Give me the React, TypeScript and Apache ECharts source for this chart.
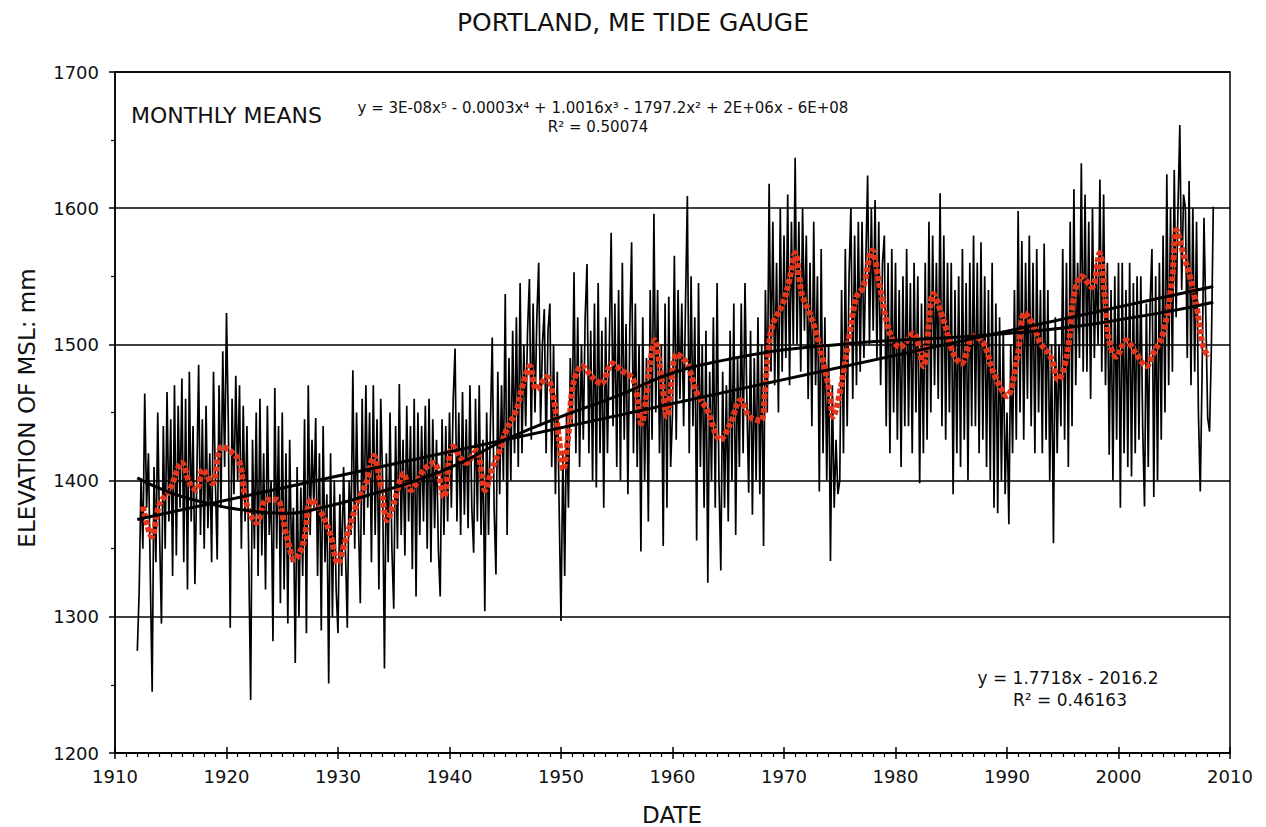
import React, { useEffect, useRef } from "react";
import * as echarts from "echarts";

// Monthly-mean sea level (mm), sampled every 2 months (6 per year) from 1912.0
const seriesStartYear = 1912;
const samplesPerYear = 6;
const monthlyMeans: number[] = [
  // 1912-1919
  1275, 1318, 1400, 1350, 1464, 1380,
  1420, 1330, 1245, 1410, 1340, 1450,
  1360, 1295, 1440, 1350, 1465, 1370,
  1445, 1330, 1470, 1345, 1455, 1380,
  1475, 1340, 1460, 1320, 1480, 1370,
  1440, 1324, 1400, 1485, 1360, 1445,
  1350, 1455, 1365, 1420, 1340, 1480,
  1400, 1342, 1470, 1380, 1495, 1410,
  // 1920-1929
  1523, 1440, 1292, 1460, 1390, 1477,
  1400, 1470, 1350, 1455, 1370, 1440,
  1340, 1239, 1430, 1350, 1450, 1330,
  1460, 1345, 1420, 1320, 1455, 1360,
  1400, 1282, 1468, 1350, 1440, 1310,
  1450, 1320, 1420, 1295, 1430, 1340,
  1380, 1266, 1410, 1300, 1395, 1330,
  1445, 1288, 1470, 1360, 1430, 1380,
  1446, 1330, 1420, 1290, 1440, 1340,
  1390, 1251, 1420, 1300, 1400, 1320,
  // 1930-1939
  1288, 1390, 1330, 1410, 1350, 1292,
  1400, 1360, 1481, 1350, 1450, 1370,
  1310, 1460, 1360, 1470, 1380, 1450,
  1340, 1470, 1360, 1445, 1320, 1460,
  1400, 1262, 1420, 1340, 1450, 1350,
  1306, 1440, 1350, 1471, 1360, 1430,
  1345, 1455, 1370, 1440, 1335, 1460,
  1315, 1450, 1360, 1440, 1370, 1455,
  1350, 1460, 1340, 1445, 1365, 1430,
  1350, 1315, 1445, 1360, 1440, 1370,
  // 1940-1949
  1450, 1380, 1460, 1497, 1370, 1450,
  1360, 1465, 1375, 1445, 1365, 1470,
  1380, 1347, 1460, 1370, 1470, 1360,
  1430, 1304, 1450, 1360, 1440, 1505,
  1380, 1331, 1480, 1390, 1470, 1400,
  1537, 1360, 1490, 1400, 1510, 1420,
  1520, 1410, 1545, 1420, 1500, 1440,
  1510, 1548, 1430, 1530, 1450, 1520,
  1560, 1440, 1500, 1526, 1420, 1510,
  1530, 1410, 1500, 1390, 1480, 1380,
  // 1950-1959
  1297, 1420, 1330, 1450, 1380, 1490,
  1440, 1553, 1420, 1520, 1410, 1500,
  1430, 1520, 1559, 1420, 1510, 1400,
  1530, 1395, 1545, 1420, 1510, 1380,
  1520, 1420, 1500, 1582, 1440, 1530,
  1410, 1540, 1400, 1560, 1430, 1515,
  1390, 1510, 1575, 1420, 1530, 1410,
  1500, 1348, 1520, 1400, 1490, 1370,
  1540, 1430, 1596, 1450, 1540, 1420,
  1500, 1352, 1530, 1380, 1535, 1410,
  // 1960-1969
  1450, 1565, 1430, 1540, 1460, 1530,
  1440, 1530, 1609, 1420, 1550, 1440,
  1520, 1356, 1545, 1410, 1500, 1380,
  1510, 1325, 1480, 1400, 1520, 1380,
  1545, 1400, 1334, 1480, 1380, 1470,
  1370, 1510, 1400, 1530, 1360, 1490,
  1410, 1530, 1420, 1545, 1460, 1391,
  1510, 1375, 1490, 1400, 1520, 1390,
  1500, 1352, 1540, 1450, 1618, 1480,
  1590, 1470, 1560, 1450, 1600, 1480,
  // 1970-1979
  1580, 1490, 1610, 1470, 1590, 1500,
  1637, 1500, 1590, 1480, 1600, 1510,
  1580, 1460, 1560, 1440, 1590, 1470,
  1550, 1392, 1570, 1420, 1520, 1400,
  1500, 1341, 1470, 1380, 1430, 1390,
  1400, 1540, 1420, 1570, 1440, 1550,
  1600, 1460, 1580, 1470, 1590, 1480,
  1590, 1490, 1560, 1624, 1500, 1600,
  1510, 1606, 1490, 1590, 1470, 1560,
  1580, 1440, 1560, 1420, 1570, 1450,
  // 1980-1989
  1560, 1430, 1540, 1410, 1550, 1440,
  1570, 1440, 1545, 1420, 1560, 1450,
  1550, 1398, 1530, 1420, 1560, 1430,
  1590, 1450, 1580, 1470, 1560, 1460,
  1611, 1440, 1580, 1430, 1560, 1450,
  1560, 1390, 1540, 1420, 1550, 1410,
  1570, 1430, 1545, 1400, 1560, 1440,
  1580, 1440, 1560, 1420, 1575, 1430,
  1550, 1410, 1540, 1400, 1560, 1380,
  1530, 1376, 1520, 1400, 1510, 1390,
  // 1990-1999
  1450, 1368, 1500, 1420, 1540, 1430,
  1598, 1450, 1576, 1430, 1560, 1460,
  1580, 1440, 1560, 1420, 1570, 1450,
  1540, 1420, 1574, 1430, 1540, 1400,
  1500, 1354, 1520, 1420, 1500, 1440,
  1570, 1430, 1560, 1410, 1590, 1440,
  1614, 1470, 1560, 1490, 1633, 1480,
  1610, 1480, 1590, 1460, 1600, 1490,
  1560, 1500, 1621, 1480, 1610, 1470,
  1560, 1419, 1540, 1400, 1550, 1430,
  // 2000-2008
  1560, 1380, 1560, 1420, 1540, 1410,
  1560, 1403, 1545, 1420, 1550, 1430,
  1550, 1440, 1381, 1530, 1410, 1530,
  1570, 1388, 1550, 1400, 1560, 1430,
  1580, 1450, 1625, 1470, 1600, 1480,
  1628, 1520, 1600, 1661, 1540, 1610,
  1600, 1490, 1620, 1470, 1600, 1480,
  1590, 1450, 1392, 1480, 1593, 1520,
  1446, 1436, 1500, 1601,
];

// Running mean (red dotted), [year, mm]
const movingAverage: [number, number][] = [
  [1912.5, 1381], [1913.3, 1359], [1914.0, 1383], [1914.9, 1393], [1916.0, 1413],
  [1916.7, 1398], [1917.3, 1393], [1917.9, 1408], [1918.7, 1398], [1919.6, 1425],
  [1920.6, 1420], [1921.2, 1413], [1921.8, 1383], [1922.7, 1369], [1923.6, 1386],
  [1924.5, 1386], [1925.4, 1359], [1926.1, 1342], [1926.9, 1354], [1927.6, 1386],
  [1928.4, 1378], [1929.3, 1361], [1930.0, 1339], [1930.6, 1354], [1931.7, 1383],
  [1932.6, 1400], [1933.2, 1418], [1933.9, 1393], [1934.4, 1371], [1935.0, 1383],
  [1935.9, 1405], [1936.5, 1393], [1937.7, 1408], [1938.6, 1413], [1939.5, 1388],
  [1940.3, 1425], [1941.5, 1413], [1942.4, 1422], [1943.2, 1393], [1943.8, 1408],
  [1944.5, 1422], [1945.1, 1437], [1946.0, 1452], [1946.6, 1471], [1947.2, 1484],
  [1947.8, 1467], [1948.7, 1476], [1949.3, 1462], [1949.8, 1432], [1950.2, 1408],
  [1950.7, 1437], [1951.1, 1471], [1951.9, 1484], [1952.8, 1476], [1953.6, 1471],
  [1954.6, 1486], [1955.4, 1481], [1956.5, 1474], [1957.2, 1442], [1958.0, 1486],
  [1958.4, 1503], [1959.0, 1476], [1959.5, 1447], [1960.4, 1493], [1961.3, 1486],
  [1962.2, 1464], [1963.1, 1452], [1964.3, 1430], [1965.2, 1442], [1966.1, 1459],
  [1966.9, 1447], [1967.9, 1444], [1968.3, 1467], [1968.6, 1496], [1969.0, 1515],
  [1969.9, 1530], [1970.5, 1548], [1971.0, 1567], [1971.6, 1537], [1972.3, 1523],
  [1972.9, 1508], [1973.5, 1488], [1974.1, 1464], [1974.4, 1447], [1975.0, 1464],
  [1975.9, 1508], [1976.5, 1535], [1977.1, 1542], [1977.9, 1569], [1978.6, 1542],
  [1979.5, 1508], [1980.4, 1498], [1981.6, 1508], [1982.5, 1484], [1983.4, 1537],
  [1984.3, 1518], [1985.2, 1493], [1985.9, 1486], [1987.0, 1506], [1987.9, 1501],
  [1988.8, 1479], [1990.0, 1462], [1990.9, 1489], [1991.6, 1523], [1992.4, 1513],
  [1993.0, 1501], [1993.9, 1491], [1994.6, 1474], [1995.4, 1493], [1996.0, 1535],
  [1996.7, 1550], [1997.6, 1542], [1998.3, 1567], [1998.8, 1532], [1999.2, 1501],
  [1999.8, 1491], [2000.7, 1503], [2001.6, 1493], [2002.5, 1484], [2003.1, 1493],
  [2004.0, 1508], [2004.8, 1547], [2005.2, 1584], [2005.8, 1567], [2006.4, 1550],
  [2007.0, 1528], [2007.6, 1498], [2008.1, 1491],
];

// 5th-order polynomial trend
const polynomialTrend: [number, number][] = [
  [1912, 1402], [1915, 1391], [1918.5, 1383], [1921, 1379], [1925, 1376],
  [1929, 1381], [1933, 1390], [1937, 1400], [1941, 1413], [1945, 1430],
  [1950, 1447], [1955, 1462], [1960, 1479], [1965, 1489], [1970, 1496],
  [1975, 1500], [1980, 1503], [1985, 1505], [1990, 1508], [1995, 1512],
  [2000, 1518], [2005, 1525], [2008.5, 1531],
];

// Linear trend end points
const linearTrend: [number, number][] = [
  [1912, 1371.5],
  [2008.5, 1542.5],
];

const chartTitle = "PORTLAND, ME TIDE GAUGE";
const xAxisName = "DATE";
const yAxisName = "ELEVATION OF MSL: mm";
const seriesLabel = "MONTHLY MEANS";
const polyEquation = "y = 3E-08x\u2075 - 0.0003x\u2074 + 1.0016x\u00B3 - 1797.2x\u00B2 + 2E+06x - 6E+08";
const polyR2 = "R\u00B2 = 0.50074";
const linEquation = "y = 1.7718x - 2016.2";
const linR2 = "R\u00B2 = 0.46163";

const FONT = "'DejaVu Sans', Verdana, sans-serif";
const TXT = "#111";

export default function App() {
  const ref = useRef<HTMLDivElement>(null);

  useEffect(() => {
    if (!ref.current) return;
    const chart = echarts.init(ref.current, undefined, { renderer: "svg" });
    const monthlyData = monthlyMeans.map((v, i) => [seriesStartYear + i / samplesPerYear, v]);

    const axisLine = { show: true, lineStyle: { color: "#000", width: 1.5 } };
    const plain = (v: number) => String(v);

    chart.setOption({
      animation: false,
      backgroundColor: "#fff",
      textStyle: { fontFamily: FONT },
      grid: {
        left: 115,
        top: 72,
        width: 1115,
        height: 681,
        show: true,
        borderColor: "#000",
        borderWidth: 1.5,
        backgroundColor: "transparent",
      },
      xAxis: [
        {
          type: "value",
          min: 1910,
          max: 2010,
          interval: 10,
          axisLine,
          axisTick: { show: true, length: 6, inside: false, lineStyle: { color: "#000", width: 1.5 } },
          minorTick: { show: true, splitNumber: 10, length: 4, lineStyle: { color: "#000", width: 1.2 } },
          splitLine: { show: false },
          axisLabel: { color: TXT, fontSize: 18, fontFamily: FONT, margin: 14, formatter: plain },
        },
        {
          type: "value",
          min: 1910,
          max: 2010,
          interval: 10,
          position: "bottom",
          axisLine: { show: false },
          axisTick: { show: true, length: 6, inside: true, lineStyle: { color: "#000", width: 1.5 } },
          axisLabel: { show: false },
          splitLine: { show: false },
        },
      ],
      yAxis: {
        type: "value",
        min: 1200,
        max: 1700,
        interval: 100,
        axisLine,
        axisTick: { show: true, length: 6, inside: false, lineStyle: { color: "#000", width: 1.5 } },
        minorTick: { show: true, splitNumber: 2, length: 4, lineStyle: { color: "#000", width: 1.2 } },
        splitLine: { show: true, lineStyle: { color: "#000", width: 1.5 } },
        axisLabel: { color: TXT, fontSize: 18, fontFamily: FONT, margin: 16, formatter: plain },
      },
      series: [
        {
          name: "Monthly means",
          type: "line",
          data: monthlyData,
          showSymbol: false,
          symbol: "none",
          lineStyle: { color: "#000", width: 1.7 },
          z: 2,
        },
        {
          name: "Running mean",
          type: "line",
          data: movingAverage,
          smooth: 0.35,
          showSymbol: false,
          symbol: "none",
          lineStyle: { color: "#e5361b", width: 6, type: [5, 2], cap: "butt" },
          z: 3,
        },
        {
          name: "Linear",
          type: "line",
          data: linearTrend,
          showSymbol: false,
          symbol: "none",
          lineStyle: { color: "#000", width: 3 },
          z: 4,
        },
        {
          name: "Polynomial",
          type: "line",
          data: polynomialTrend,
          smooth: 0.5,
          showSymbol: false,
          symbol: "none",
          lineStyle: { color: "#000", width: 3 },
          z: 4,
        },
      ],
      graphic: [
        {
          type: "text",
          x: 633,
          y: 22,
          style: { text: chartTitle, fill: TXT, font: `25px ${FONT}`, align: "center", verticalAlign: "middle" },
        },
        {
          type: "text",
          x: 672,
          y: 815,
          style: { text: xAxisName, fill: TXT, font: `23px ${FONT}`, align: "center", verticalAlign: "middle" },
        },
        {
          type: "text",
          x: 27,
          y: 408,
          rotation: Math.PI / 2,
          style: { text: yAxisName, fill: TXT, font: `23px ${FONT}`, align: "center", verticalAlign: "middle" },
        },
        {
          type: "text",
          x: 131,
          y: 115,
          style: { text: seriesLabel, fill: TXT, font: `22px ${FONT}`, align: "left", verticalAlign: "middle" },
        },
        {
          type: "text",
          x: 603,
          y: 108,
          style: { text: polyEquation, fill: TXT, font: `15px ${FONT}`, align: "center", verticalAlign: "middle" },
        },
        {
          type: "text",
          x: 598,
          y: 127,
          style: { text: polyR2, fill: TXT, font: `15px ${FONT}`, align: "center", verticalAlign: "middle" },
        },
        {
          type: "text",
          x: 1068,
          y: 678,
          style: { text: linEquation, fill: TXT, font: `17px ${FONT}`, align: "center", verticalAlign: "middle" },
        },
        {
          type: "text",
          x: 1070,
          y: 700,
          style: { text: linR2, fill: TXT, font: `17px ${FONT}`, align: "center", verticalAlign: "middle" },
        },
      ],
    });

    return () => chart.dispose();
  }, []);

  return (
    <div
      ref={ref}
      style={{ position: "absolute", left: 0, top: 0, width: 1266, height: 827, background: "#fff" }}
    />
  );
}
